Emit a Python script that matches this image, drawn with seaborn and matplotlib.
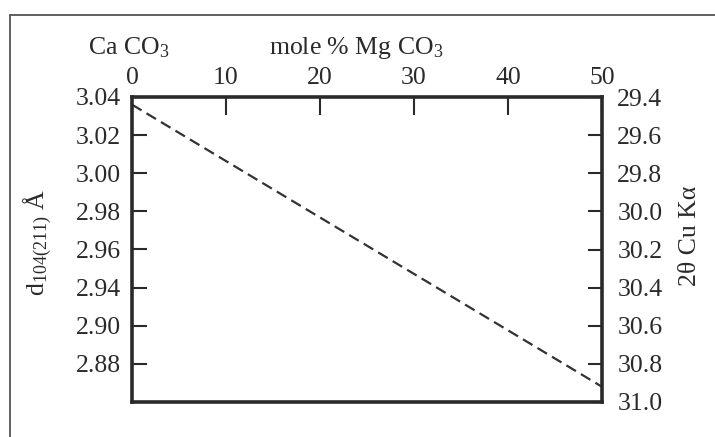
import matplotlib
matplotlib.use("Agg")
import matplotlib.pyplot as plt
from matplotlib.lines import Line2D
import seaborn as sns
import pandas as pd

# Composition (mole % MgCO3) and d-spacing of the (104) reflection
mole_pct_mgco3 = [0, 50]
d_spacing = [3.036, 2.888]

x_ticks = [0, 10, 20, 30, 40, 50]
d_tick_pos = [3.04, 3.02, 3.00, 2.98, 2.96, 2.94, 2.92, 2.90]
d_tick_labels = ["3.04", "3.02", "3.00", "2.98", "2.96", "2.94", "2.90", "2.88"]
two_theta_ticks = [29.4, 29.6, 29.8, 30.0, 30.2, 30.4, 30.6, 30.8, 31.0]

sns.set_theme(style="white")
plt.rcParams["font.family"] = ["Liberation Serif", "DejaVu Serif"]
plt.rcParams["mathtext.fontset"] = "custom"
plt.rcParams["mathtext.rm"] = "Liberation Serif"
plt.rcParams["mathtext.it"] = "Liberation Serif:italic"
plt.rcParams["mathtext.bf"] = "Liberation Serif:bold"

FS = 18.5
INK = "#2a2a2a"

fig = plt.figure(figsize=(7.15, 4.37), dpi=100)
ax = fig.add_axes([132 / 715, 1 - 402 / 437, 470 / 715, 305 / 437])

df = pd.DataFrame({"mole": mole_pct_mgco3, "d": d_spacing})
sns.lineplot(data=df, x="mole", y="d", ax=ax, color="#333333", lw=1.6,
             linestyle=(0, (5, 2.6)))

ax.set_xlim(0, 50)
ax.set_ylim(2.88, 3.04)
ax.set_xlabel("")
ax.set_ylabel("")

ax.xaxis.tick_top()
ax.set_xticks(x_ticks)
ax.set_xticklabels([str(v) for v in x_ticks])
ax.set_yticks(d_tick_pos)
ax.set_yticklabels(d_tick_labels)
ax.tick_params(axis="x", which="both", direction="in", length=13, width=1.5,
               color=INK, labelsize=FS, labelcolor=INK, pad=6,
               top=True, bottom=False)
ax.tick_params(axis="y", which="both", direction="in", length=11, width=1.5,
               color=INK, labelsize=FS, labelcolor=INK, pad=8,
               left=True, right=False)

for s in ax.spines.values():
    s.set_linewidth(2.6)
    s.set_color(INK)

# 2-theta (Cu K-alpha) scale on the right
ax2 = ax.twinx()
ax2.set_ylim(31.0, 29.4)
ax2.set_yticks(two_theta_ticks)
ax2.set_yticklabels([f"{v:.1f}" for v in two_theta_ticks])
ax2.tick_params(axis="y", direction="in", length=10, width=1.5, color=INK,
                labelsize=FS, labelcolor=INK, pad=11)
for s in ax2.spines.values():
    s.set_visible(False)
ax2.grid(False)
ax.grid(False)

fig.text(88 / 715, 1 - 48 / 437, r"Ca CO$\mathregular{_3}$", ha="left",
         va="center", fontsize=FS, color=INK)
fig.text(0.498, 1 - 48 / 437, r"mole % Mg CO$\mathregular{_3}$", ha="center",
         va="center", fontsize=FS, color=INK)
fig.text(38 / 715, 1 - 243 / 437, r"d$\mathregular{_{104(211)}}$ Å", rotation=90,
         ha="center", va="center", fontsize=FS, color=INK)
fig.text(690 / 715, 1 - 236 / 437, "2θ Cu Kα", rotation=90,
         ha="center", va="center", fontsize=FS, color=INK)

# thin page frame along top and left
fx, fy = 10 / 715, 1 - 15 / 437
fig.add_artist(Line2D([fx, 1], [fy, fy], transform=fig.transFigure,
                      color="#555555", lw=1.3))
fig.add_artist(Line2D([fx, fx], [0, fy], transform=fig.transFigure,
                      color="#555555", lw=1.3))

fig.savefig("out.png", dpi=100, facecolor="white")
